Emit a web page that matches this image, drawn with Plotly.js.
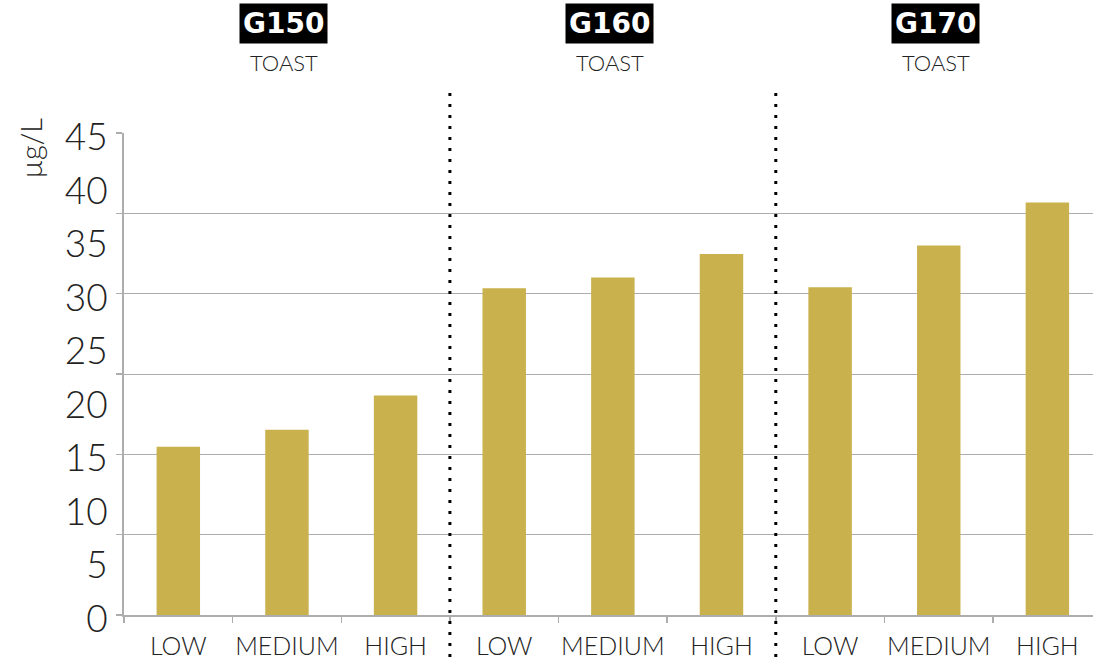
<!DOCTYPE html>
<html>
<head>
<meta charset="utf-8">
<script src="https://cdn.plot.ly/plotly-3.0.1.min.js"></script>
<style>
html,body{margin:0;padding:0;background:#fff;}
#chart{width:1093px;height:665px;}
</style>
</head>
<body>
<div id="chart"></div>
<script>
// ---- data ----
const groups = ["G150", "G160", "G170"];
const groupSubtitle = "TOAST";
const levels = ["LOW", "MEDIUM", "HIGH"];
const g150Values = [15.7, 17.3, 20.5];
const g160Values = [30.5, 31.5, 33.7];
const g170Values = [30.6, 34.5, 38.5];
const yTickValues = [0, 5, 10, 15, 20, 25, 30, 35, 40, 45];
const yGridValues = [0, 7.5, 15, 22.5, 30, 37.5, 45];
const yTitle = "µg/L";

// ---- build ----
const seriesByGroup = [g150Values, g160Values, g170Values];
const xs = [], ys = [], labels = [];
seriesByGroup.forEach((vals, gi) => {
  vals.forEach((v, li) => {
    xs.push(gi * levels.length + li);
    ys.push(v);
    labels.push(levels[li]);
  });
});
const boundaries = [];
for (let i = 0; i <= xs.length; i++) boundaries.push(i - 0.5);

const barColor = "#C9B14D";
const gridColor = "#ADADAD";
const thinFont = "Lato, 'Open Sans', sans-serif";

const trace = {
  type: "bar",
  x: xs,
  y: ys,
  width: 0.4,
  marker: {color: barColor, line: {width: 0}},
  hoverinfo: "y"
};

const annotations = [];
groups.forEach((g, gi) => {
  const cx = gi * levels.length + (levels.length - 1) / 2;
  annotations.push({
    x: cx, xref: "x", xshift: -3, y: 1.227, yref: "paper",
    text: "<b>" + g + "</b>", showarrow: false,
    font: {family: "'DejaVu Sans', sans-serif", size: 28, color: "#ffffff", weight: 700},
    bgcolor: "#000000", borderpad: 3, xanchor: "center", yanchor: "middle"
  });
  annotations.push({
    x: cx, xref: "x", xshift: -3, y: 1.146, yref: "paper",
    text: groupSubtitle, showarrow: false,
    font: {family: thinFont, size: 22, color: "#222", weight: 300},
    xanchor: "center", yanchor: "middle"
  });
});
annotations.push({
  x: 0, xref: "paper", xshift: -94, y: (615.5 - 149) / 482, yref: "paper",
  text: yTitle, showarrow: false, textangle: -90,
  font: {family: thinFont, size: 29, color: "#222", weight: 300},
  xanchor: "center", yanchor: "middle"
});

const shapes = [];
for (let gi = 1; gi < groups.length; gi++) {
  const bx = gi * levels.length - 0.5;
  shapes.push({
    type: "line", xref: "x", yref: "paper",
    x0: bx, x1: bx, y0: -0.11, y1: 1.085,
    line: {color: "#000", width: 3, dash: "3px,8px"}
  });
}

const layout = {
  width: 1093, height: 665,
  margin: {l: 124, r: 0, t: 133, b: 50, pad: 0},
  paper_bgcolor: "#fff", plot_bgcolor: "#fff",
  showlegend: false,
  bargap: 0.6,
  xaxis: {
    range: [-0.5, 8.42],
    tickvals: xs, ticktext: labels,
    ticks: "", showgrid: false, zeroline: false,
    showline: true, linecolor: gridColor, linewidth: 2,
    tickfont: {family: thinFont, size: 25, color: "#222", weight: 300},
    ticklabelstandoff: 8,
    minor: {tickvals: boundaries, ticks: "outside", ticklen: 6, tickcolor: gridColor, tickwidth: 1.5, showgrid: false},
    fixedrange: true
  },
  yaxis: {
    range: [0, 45],
    tickvals: yTickValues, ticktext: yTickValues.map(String),
    ticks: "", showgrid: false, zeroline: false,
    showline: true, linecolor: gridColor, linewidth: 2,
    tickfont: {family: thinFont, size: 37, color: "#222", weight: 300},
    ticklabelshift: 4,
    ticklabelstandoff: 7,
    minor: {tickvals: yGridValues, ticks: "outside", ticklen: 6, tickcolor: gridColor, tickwidth: 1.5, showgrid: true, gridcolor: gridColor, gridwidth: 1},
    fixedrange: true
  },
  annotations: annotations,
  shapes: shapes
};

Plotly.newPlot("chart", [trace], layout, {displayModeBar: false, staticPlot: true});
</script>
</body>
</html>
